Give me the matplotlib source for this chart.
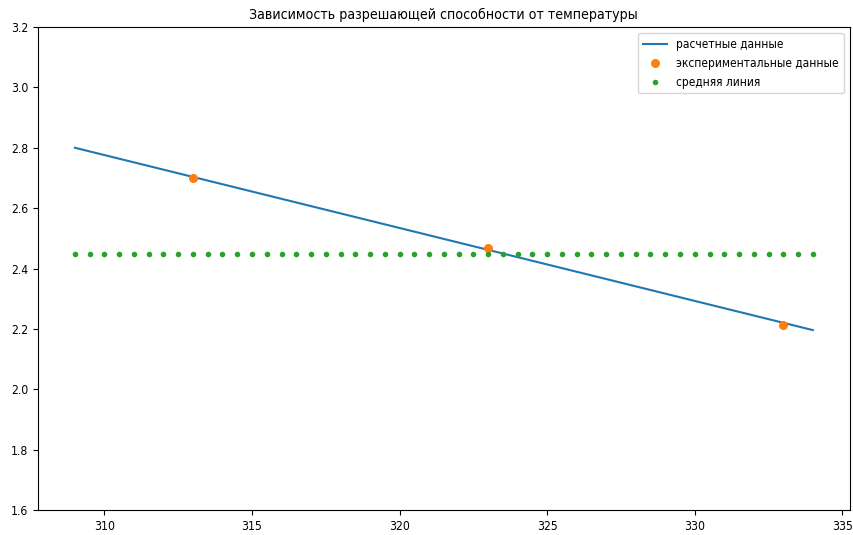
import numpy as np
import matplotlib
matplotlib.use('Agg')
import matplotlib.pyplot as plt

# расчетные данные (прямая)
t_calc = [309, 334]
r_calc = [2.80, 2.196]

# экспериментальные точки
t_exp = [313, 323, 333]
r_exp = [2.700, 2.467, 2.214]

# средняя линия
r_mean = 2.448
t_mean = np.arange(309, 334.5, 0.5)

plt.rcParams['font.family'] = ['DejaVu Sans']
plt.rcParams['font.stretch'] = 'condensed'

fig = plt.figure(figsize=(8.54, 5.35), dpi=100)
plt.subplots_adjust(left=0.0445, right=0.995, top=0.9495, bottom=0.0467)

plt.plot(t_calc, r_calc, '-', label='расчетные данные')
plt.plot(t_exp, r_exp, 'o', markersize=5.5, label='экспериментальные данные')
plt.plot(t_mean, [r_mean] * len(t_mean), '.', label='средняя линия')
plt.ylim(1.6, 3.2)
plt.xticks(fontsize=8.7)
plt.yticks(fontsize=8.7)
plt.title('Зависимость разрешающей способности от температуры', fontsize=10.2)
plt.legend(fontsize=8.6)

plt.savefig('out.png', dpi=100)
